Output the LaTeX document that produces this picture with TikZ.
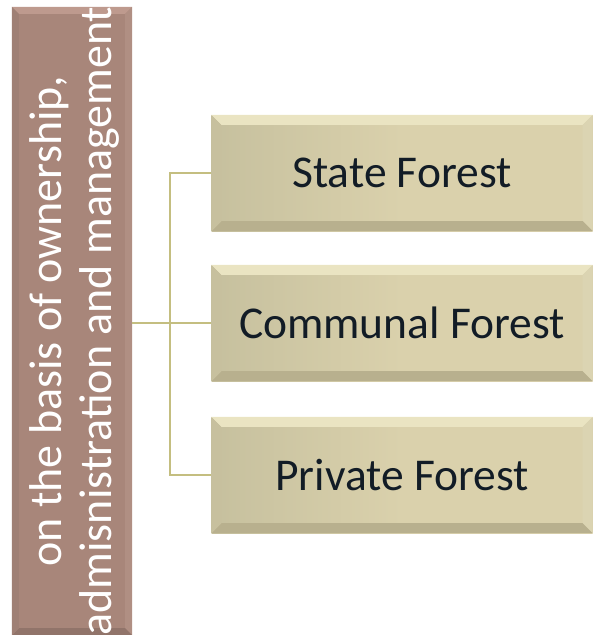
\documentclass[tikz,border=0pt]{standalone}
\usepackage{fontspec}
\setmainfont{Carlito}
\usetikzlibrary{calc}
\definecolor{lboxc}{RGB}{168,134,122}
\definecolor{lboxlight}{RGB}{190,154,142}
\definecolor{lboxdark}{RGB}{145,116,106}
\definecolor{rboxc}{RGB}{218,209,172}
\definecolor{rboxleft}{RGB}{198,192,158}
\definecolor{rboxlight}{RGB}{234,228,194}
\definecolor{rboxdark}{RGB}{184,176,142}
\definecolor{linkc}{RGB}{196,190,128}
\definecolor{txtc}{RGB}{18,28,38}
\newcommand{\bevelit}[4]{%
  \fill[#3] (#1.north west) -- (#1.north east) -- ([xshift=-#2,yshift=-#2]#1.north east) -- ([xshift=#2,yshift=-#2]#1.north west) -- cycle;
  \fill[#3!70!#4] (#1.north east) -- (#1.south east) -- ([xshift=-#2,yshift=#2]#1.south east) -- ([xshift=-#2,yshift=-#2]#1.north east) -- cycle;
  \fill[#4] (#1.south west) -- (#1.south east) -- ([xshift=-#2,yshift=#2]#1.south east) -- ([xshift=#2,yshift=#2]#1.south west) -- cycle;
  \fill[#4!70!#3] (#1.north west) -- (#1.south west) -- ([xshift=#2,yshift=#2]#1.south west) -- ([xshift=#2,yshift=-#2]#1.north west) -- cycle;
}
\tikzset{
  rbox/.style={rectangle, inner sep=0pt, minimum width=381pt, minimum height=116pt, left color=rboxleft, right color=rboxc, middle color=rboxc},
  rtext/.style={font=\fontsize{45.5}{53}\selectfont, text=txtc, inner sep=0pt},
  lbox/.style={rectangle, inner sep=0pt, minimum width=120pt, minimum height=628pt, fill=lboxc},
  ltext/.style={rotate=90, align=center, text=white, font=\fontsize{46}{50}\selectfont, inner sep=0pt},
  link/.style={draw=linkc, line width=2.2pt}
}
\begin{document}
\begin{tikzpicture}[x=1pt,y=-1pt]
\useasboundingbox (0,0) rectangle (593,635);
\node[lbox] (L) at (72,321) {};
\bevelit{L}{7pt}{lboxlight}{lboxdark}
\node[ltext] (Lt) at ([xshift=2pt]L.center) {on the basis of ownership,\\admisnistration and management};
\node[rbox] (S) at (402,173) {};
\bevelit{S}{10pt}{rboxlight}{rboxdark}
\node[rtext] (St) at (S.center) {State Forest};
\node[rbox] (C) at (402,323) {};
\bevelit{C}{10pt}{rboxlight}{rboxdark}
\node[rtext] (Ct) at (C.center) {Communal Forest};
\node[rbox] (P) at (402,475) {};
\bevelit{P}{10pt}{rboxlight}{rboxdark}
\node[rtext] (Pt) at (P.center) {Private Forest};
\coordinate (j) at (170,323);
\draw[link] (L.east |- C.west) -- (C.west);
\draw[link] (S.west) -- (S.west -| j) -- (P.west -| j) -- (P.west);
\end{tikzpicture}
\end{document}
